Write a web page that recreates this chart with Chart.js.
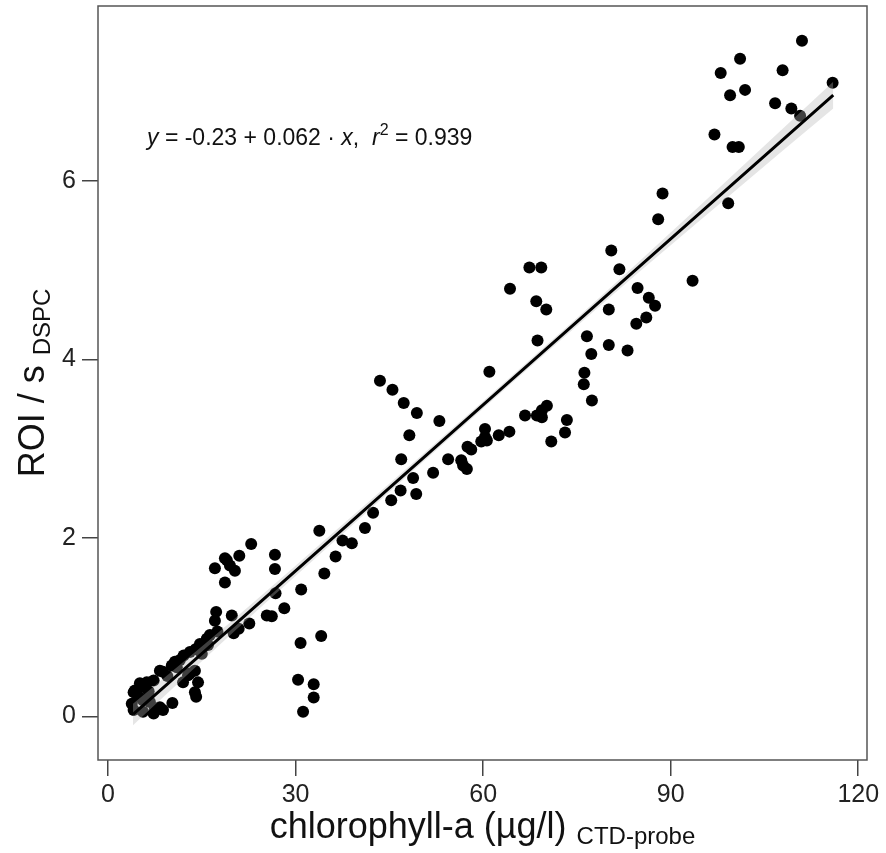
<!DOCTYPE html>
<html>
<head>
<meta charset="utf-8">
<script src="https://cdn.jsdelivr.net/npm/chart.js@4.4.1/dist/chart.umd.min.js"></script>
<style>
  html, body { margin: 0; padding: 0; background: #fff; }
  #wrap { width: 886px; height: 853px; }
</style>
</head>
<body>
<div id="wrap"><canvas id="chart" width="886" height="853"></canvas></div>
<script>
// chlorophyll-a (ug/l, CTD probe) vs ROI per second (DSPC)
const chlA = [
  111.0, 101.1, 98.0, 107.9, 99.5, 101.9, 115.9, 106.7, 109.3, 110.7,
  97.0, 99.9, 100.9, 88.7, 99.2, 88.0, 80.5, 81.8, 93.5, 84.7,
  86.5, 87.5, 80.1, 86.1, 84.5, 76.6, 80.1, 83.1, 77.3, 76.2,
  76.1, 77.4, 73.4, 67.4, 69.3, 64.3, 68.5, 70.1, 68.7, 61.0,
  70.2, 69.4, 68.6, 66.7, 69.4, 73.1, 70.9, 64.2, 62.5, 60.3,
  60.3, 59.7, 60.6, 57.5, 58.1, 43.5, 45.5, 47.3, 49.4, 53.0,
  48.2, 46.9, 54.4, 56.5, 56.8, 57.4, 48.8, 52.0, 46.8, 49.3,
  45.3, 42.4, 41.1, 39.0, 33.8, 37.5, 36.4, 34.6, 22.9, 21.0,
  26.7, 26.7, 19.0, 17.1, 19.5, 20.3, 18.7, 18.7, 26.8, 30.9,
  28.2, 25.4, 26.2, 22.6, 20.9, 20.1, 17.3, 17.1, 19.8, 30.8,
  34.1, 30.4, 32.9, 32.9, 31.2, 10.3, 14.4, 13.9, 14.1, 13.1,
  16.3, 14.7, 13.1, 11.5, 10.2, 8.8, 7.3, 5.6, 4.3, 4.9,
  3.8, 4.1, 5.6, 7.3, 8.3, 12.8, 12.0, 13.9, 15.8, 12.1,
  10.7, 8.3, 6.2, 5.1, 4.1, 5.6, 6.7, 7.5, 8.8, 9.5,
  11.0, 6.5, 14.0, 15.0, 16.0, 17.5
];
const roiRate = [
  7.57, 7.37, 7.21, 7.24, 6.96, 7.02, 7.10, 6.87, 6.81, 6.73,
  6.52, 6.38, 6.38, 5.86, 5.75, 5.57, 5.22, 5.01, 4.88, 4.80,
  4.69, 4.60, 4.56, 4.47, 4.40, 4.26, 4.16, 4.10, 4.06, 3.85,
  3.72, 3.54, 3.32, 5.03, 5.03, 4.79, 4.65, 4.56, 4.21, 3.86,
  3.48, 3.43, 3.37, 3.37, 3.35, 3.18, 3.08, 3.19, 3.15, 3.22,
  3.13, 3.08, 3.09, 3.02, 2.99, 3.76, 3.66, 3.51, 3.40, 3.31,
  3.15, 2.88, 2.88, 2.87, 2.81, 2.77, 2.67, 2.73, 2.53, 2.49,
  2.42, 2.28, 2.11, 1.94, 2.08, 1.97, 1.79, 1.60, 1.93, 1.80,
  1.81, 1.65, 1.75, 1.66, 1.69, 1.63, 1.77, 1.50, 1.38, 1.42,
  1.21, 1.13, 1.12, 1.04, 0.98, 0.93, 1.17, 1.07, 1.13, 0.82,
  0.90, 0.41, 0.36, 0.21, 0.05, 0.15, 0.38, 0.27, 0.22, 0.48,
  0.91, 0.81, 0.72, 0.63, 0.57, 0.50, 0.40, 0.33, 0.29, 0.22,
  0.14, 0.07, 0.05, 0.03, 0.10, 0.46, 0.38, 0.51, 0.87, 0.68,
  0.61, 0.51, 0.38, 0.37, 0.27, 0.18, 0.16, 0.09, 0.07, 0.45,
  0.55, 0.28, 0.75, 0.70, 0.80, 0.95
];

// fitted line and its confidence band
const fitX = [4, 20, 40, 60, 80, 100, 116];
const fitY = [0.02, 1.01, 2.25, 3.49, 4.73, 5.97, 6.96];
const bandUpper = [0.14, 1.08, 2.30, 3.53, 4.78, 6.07, 7.11];
const bandLower = [-0.10, 0.94, 2.20, 3.45, 4.68, 5.87, 6.81];

const xTicks = [0, 30, 60, 90, 120];
const yTicks = [0, 2, 4, 6];

const FONT = "'Liberation Sans', Arial, Helvetica, sans-serif";

function drawRuns(ctx, x, y, runs) {
  let cx = x;
  for (const r of runs) {
    ctx.font = (r.italic ? 'italic ' : '') + r.size + 'px ' + FONT;
    ctx.fillText(r.t, cx, y + (r.dy || 0));
    cx += ctx.measureText(r.t).width;
  }
}
function runsWidth(ctx, runs) {
  let w = 0;
  for (const r of runs) {
    ctx.font = (r.italic ? 'italic ' : '') + r.size + 'px ' + FONT;
    w += ctx.measureText(r.t).width;
  }
  return w;
}

const textPlugin = {
  id: 'textPlugin',
  afterDatasetsDraw(chart) {
    const ctx = chart.ctx, a = chart.chartArea;
    // frame
    ctx.save();
    ctx.strokeStyle = '#555';
    ctx.lineWidth = 1.5;
    ctx.strokeRect(a.left, a.top, a.right - a.left, a.bottom - a.top);
    ctx.restore();
  },
  afterDraw(chart) {
    const ctx = chart.ctx, a = chart.chartArea;
    ctx.save();
    ctx.fillStyle = '#111';
    ctx.textBaseline = 'alphabetic';
    ctx.textAlign = 'left';

    // regression annotation
    drawRuns(ctx, 147, 145, [
      { t: 'y', size: 23, italic: true },
      { t: ' = -0.23 + 0.062 \u00b7 ', size: 23 },
      { t: 'x', size: 23, italic: true },
      { t: ',  ', size: 23 },
      { t: 'r', size: 23, italic: true },
      { t: '2', size: 16, dy: -10 },
      { t: ' = 0.939', size: 23 }
    ]);

    // x title
    const xRuns = [
      { t: 'chlorophyll-a (\u00b5g/l) ', size: 36 },
      { t: 'CTD-probe', size: 24, dy: 6 }
    ];
    const xw = runsWidth(ctx, xRuns);
    drawRuns(ctx, (a.left + a.right) / 2 - xw / 2, 838, xRuns);

    // y title, rotated
    const yRuns = [
      { t: 'ROI / s ', size: 36 },
      { t: 'DSPC', size: 24, dy: 6 }
    ];
    const yw = runsWidth(ctx, yRuns);
    ctx.translate(44, (a.top + a.bottom) / 2);
    ctx.rotate(-Math.PI / 2);
    drawRuns(ctx, -yw / 2, 0, yRuns);
    ctx.restore();
  }
};

const points = chlA.map((v, i) => ({ x: v, y: roiRate[i] }));
const fitLine = fitX.map((v, i) => ({ x: v, y: fitY[i] }));
const upper = fitX.map((v, i) => ({ x: v, y: bandUpper[i] }));
const lower = fitX.map((v, i) => ({ x: v, y: bandLower[i] }));

new Chart(document.getElementById('chart').getContext('2d'), {
  type: 'scatter',
  data: {
    datasets: [
      { label: 'samples', data: points, backgroundColor: '#000', borderWidth: 0, pointRadius: 6, order: 3 },
      { type: 'line', label: 'ci upper', data: upper, borderWidth: 0, pointRadius: 0, fill: '+1',
        backgroundColor: 'rgba(180,180,180,0.35)', cubicInterpolationMode: 'monotone', order: 2 },
      { type: 'line', label: 'ci lower', data: lower, borderWidth: 0, pointRadius: 0, fill: false,
        cubicInterpolationMode: 'monotone', order: 2 },
      { type: 'line', label: 'fit', data: fitLine, borderColor: '#000', borderWidth: 3, pointRadius: 0, fill: false, order: 1 }
    ]
  },
  options: {
    responsive: false,
    animation: false,
    devicePixelRatio: 1,
    layout: { padding: { top: 5, right: 19, left: 0, bottom: 0 } },
    plugins: { legend: { display: false }, tooltip: { enabled: false } },
    scales: {
      x: {
        type: 'linear', min: -1.6, max: 121.4,
        afterBuildTicks: s => { s.ticks = xTicks.map(v => ({ value: v })); },
        afterFit: s => { s.height = 93; s.paddingLeft = 0; s.paddingRight = 0; },
        grid: { drawOnChartArea: false, tickLength: 16, color: '#444', lineWidth: 1.5 },
        border: { display: false },
        ticks: { font: { family: FONT, size: 25 }, color: '#222', padding: 4, maxRotation: 0 }
      },
      y: {
        type: 'linear', min: -0.49, max: 7.96,
        afterBuildTicks: s => { s.ticks = yTicks.map(v => ({ value: v })); },
        afterFit: s => { s.width = 98; s.paddingTop = 0; s.paddingBottom = 0; },
        grid: { drawOnChartArea: false, tickLength: 16, color: '#444', lineWidth: 1.5 },
        border: { display: false },
        ticks: { font: { family: FONT, size: 25 }, color: '#222', padding: 6 }
      }
    }
  },
  plugins: [textPlugin]
});
</script>
</body>
</html>
